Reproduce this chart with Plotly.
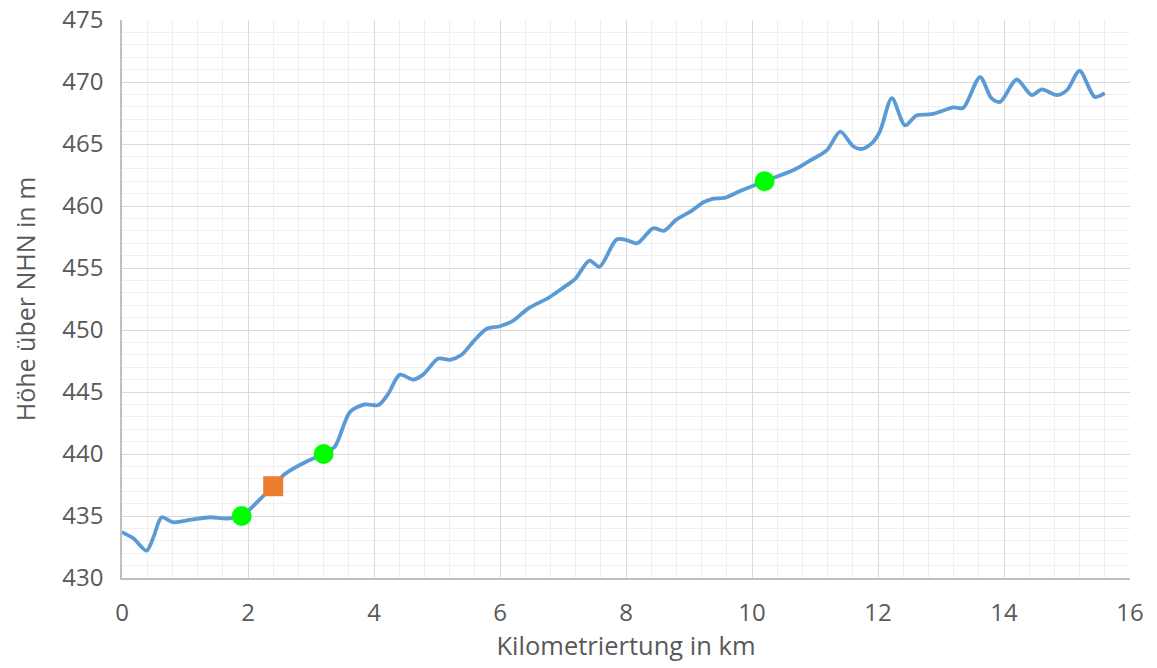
import plotly.graph_objects as go

# Höhenprofil entlang der Strecke (km, m ü. NHN)
km = [0.0, 0.18, 0.39, 0.5, 0.63, 0.81, 1.1, 1.4, 1.66, 1.9, 2.2, 2.4, 2.59, 2.93, 3.2,
      3.38, 3.62, 3.86, 4.07, 4.22, 4.41, 4.62, 4.78, 5.02, 5.21, 5.39, 5.6, 5.79, 6.0,
      6.21, 6.45, 6.77, 7.0, 7.19, 7.42, 7.58, 7.85, 8.01, 8.18, 8.43, 8.6, 8.8, 9.04,
      9.23, 9.39, 9.56, 9.81, 10.2, 10.66, 10.9, 11.19, 11.4, 11.61, 11.74, 11.9, 12.03,
      12.22, 12.43, 12.61, 12.85, 13.2, 13.35, 13.62, 13.8, 13.94, 14.2, 14.44, 14.6,
      14.84, 15.0, 15.2, 15.44, 15.6]
hoehe = [433.7, 433.2, 432.2, 433.3, 434.9, 434.5, 434.7, 434.9, 434.8, 435.0, 436.4, 437.4,
         438.4, 439.4, 440.0, 440.6, 443.4, 444.0, 443.95, 444.8, 446.4, 446.0, 446.4,
         447.7, 447.6, 448.0, 449.2, 450.1, 450.3, 450.75, 451.75, 452.6, 453.4, 454.1,
         455.6, 455.1, 457.3, 457.25, 457.0, 458.2, 458.0, 458.9, 459.6, 460.3, 460.6,
         460.65, 461.2, 462.0, 462.9, 463.6, 464.5, 466.0, 464.8, 464.6, 465.05, 466.0,
         468.7, 466.5, 467.3, 467.4, 467.95, 467.9, 470.4, 468.7, 468.4, 470.2, 468.95,
         469.4, 468.95, 469.35, 470.9, 468.8, 469.1]

# Markierte Punkte
punkte_km = [1.9, 3.2, 10.2]
punkte_hoehe = [435.0, 440.0, 462.0]
quadrat_km = [2.4]
quadrat_hoehe = [437.4]

x_ticks = [0, 2, 4, 6, 8, 10, 12, 14, 16]
y_ticks = [430, 435, 440, 445, 450, 455, 460, 465, 470, 475]

text_color = "#595959"
font_family = "Open Sans, Liberation Sans, sans-serif"

fig = go.Figure()
fig.add_trace(go.Scatter(
    x=km, y=hoehe, mode="lines",
    line=dict(color="#5B9BD5", width=3.8, shape="spline", smoothing=0.8),
    hoverinfo="x+y", showlegend=False,
))
fig.add_trace(go.Scatter(
    x=punkte_km, y=punkte_hoehe, mode="markers",
    marker=dict(color="#00FF00", size=20, symbol="circle"),
    showlegend=False,
))
fig.add_trace(go.Scatter(
    x=quadrat_km, y=quadrat_hoehe, mode="markers",
    marker=dict(color="#ED7D31", size=20, symbol="square"),
    showlegend=False,
))

fig.update_layout(
    width=1157, height=668,
    margin=dict(l=122, r=27, t=20, b=90),
    paper_bgcolor="white", plot_bgcolor="white",
    font=dict(family=font_family, color=text_color, size=24),
    xaxis=dict(
        range=[0, 16], tickvals=x_ticks, ticktext=[str(v) for v in x_ticks],
        automargin=False,
        showgrid=True, gridcolor="#D9D9D9", gridwidth=1.4,
        minor=dict(dtick=0.4, tick0=0, showgrid=True, gridcolor="#EFEFEF", gridwidth=1.4),
        showline=True, linecolor="#BFBFBF", linewidth=1.5,
        zeroline=False, ticks="", ticklabelstandoff=12,
        tickfont=dict(size=24, color=text_color),
        title=dict(text="Kilometriertung in km", font=dict(size=25.5, color=text_color), standoff=6),
    ),
    yaxis=dict(
        range=[430, 475], tickvals=y_ticks, ticktext=[str(v) for v in y_ticks],
        automargin=False,
        showgrid=True, gridcolor="#D9D9D9", gridwidth=1.4,
        minor=dict(dtick=1, tick0=430, showgrid=True, gridcolor="#EFEFEF", gridwidth=1.4),
        showline=True, linecolor="#BFBFBF", linewidth=1.5,
        zeroline=False, ticks="", ticklabelstandoff=12,
        tickfont=dict(size=24, color=text_color),
        title=dict(text="Höhe über NHN in m", font=dict(size=25, color=text_color), standoff=20),
    ),
)

fig.write_html("out.html")
